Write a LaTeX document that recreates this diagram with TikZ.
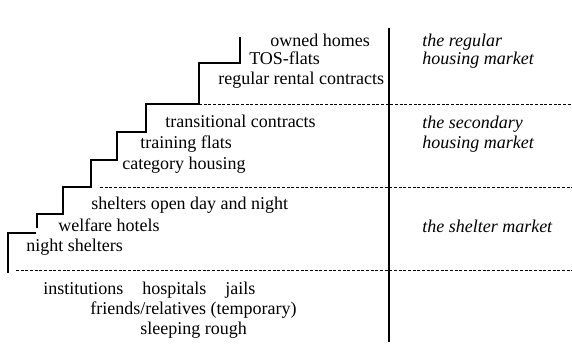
\documentclass[tikz,border=0pt]{standalone}
\usepackage{fontspec}
\setmainfont{Liberation Serif}
\newfontfamily\stairfont{Liberation Serif}
\usetikzlibrary{positioning}

\begin{document}
\begin{tikzpicture}[x=0.75pt,y=-0.75pt,node distance=13.5pt,
	every node/.style={inner sep=0pt,anchor=base west,font=\stairfont\fontsize{13.5pt}{16pt}\selectfont},
	mkt/.style={font=\stairfont\fontsize{13.5pt}{16pt}\selectfont\itshape},
	stair/.style={line width=1.1pt},
	level/.style={line width=0.7pt,dash pattern=on 2.2pt off 1.3pt}]
	\useasboundingbox (0,0) rectangle (572,347);
	% the staircase
	\draw[stair] (240,37) -- (240,63) -- (199,63) -- (199,104) -- (146,104) -- (146,132) -- (117,132)
		-- (117,160) -- (91,160) -- (91,187) -- (63,187) -- (63,214) -- (37,214) -- (37,228);
	\draw[stair] (36,233) -- (8,233) -- (8,273);
	% divider and level lines
	\coordinate (top) at (389,28);
	\coordinate (bot) at (389,342);
	\draw[stair] (top) -- (bot);
	\draw[level] (199,104) -- (572,104);
	\draw[level] (100,187) -- (572,187);
	\draw[level] (16,270) -- (572,270);
	% regular market
	\node (own)   at (270,46)  {owned homes};
	\node (tos)   at (249,64)  {TOS-flats};
	\node (rent)  at (218,84)  {regular rental contracts};
	% secondary market
	\node (trans) at (165,127) {transitional contracts};
	\node (train) at (140,148) {training flats};
	\node (cat)   at (122,169) {category housing};
	% shelters
	\node (open)  at (91,209)  {shelters open day and night};
	\node (hotel) at (58,231)  {welfare hotels};
	\node (night) at (26,251)  {night shelters};
	% below the stairs
	\node (inst)  at (43,294)  {institutions};
	\node (hosp)  at (142,294) {hospitals};
	\node (jail)  at (225,294) {jails};
	\node (fr)    at (90,314)  {friends/relatives (temporary)};
	\node (rough) at (140,334) {sleeping rough};
	% market names
	\node[mkt] (reg)    at (422,46)  {the regular};
	\node[mkt] (reghm)  [below=of reg.base west,anchor=base west]  {housing market};
	\node[mkt] (sec)    at (422,128) {the secondary};
	\node[mkt] (sechm)  [below=15pt of sec.base west,anchor=base west]  {housing market};
	\node[mkt] (shelt)  at (422,232) {the shelter market};
\end{tikzpicture}
\end{document}
